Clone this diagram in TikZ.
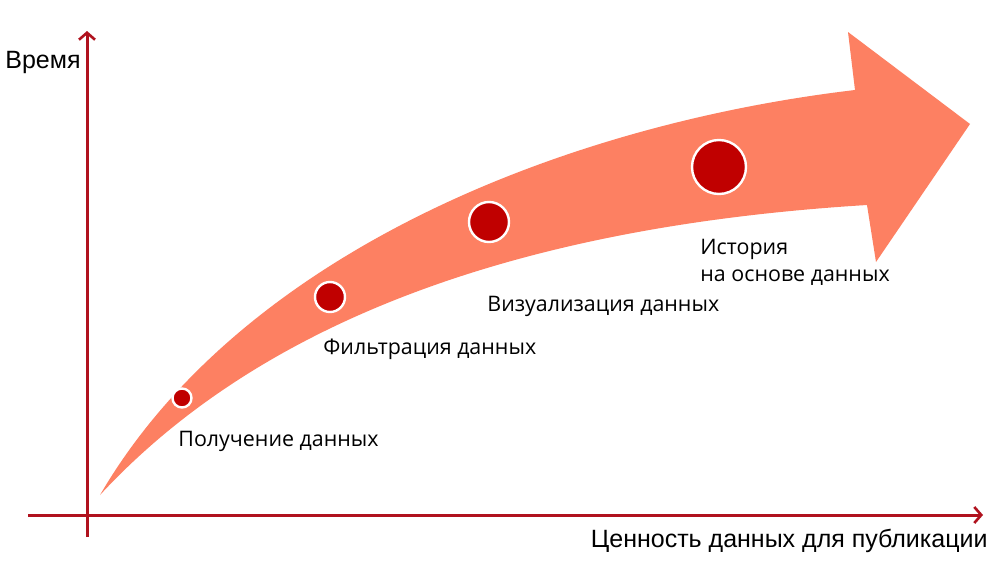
\documentclass[tikz,border=0pt]{standalone}
\usepackage{fontspec}
\setmainfont{Open Sans}
\newfontfamily\arialfont{Liberation Sans}
\usetikzlibrary{arrows.meta}

\definecolor{axisred}{RGB}{176,18,30}
\definecolor{salmon}{RGB}{253,128,98}
\definecolor{dotred}{RGB}{192,0,0}

\tikzset{
  axis/.style={axisred, line width=1.5pt, -{Straight Barb[length=3.5pt,width=8pt,line width=1.3pt]}},
  dot/.style={circle, fill=dotred, draw=white, line width=1.2pt, inner sep=0pt},
  lbl/.style={font=\fontsize{10.7}{13.5}\selectfont, inner sep=0pt, anchor=west},
  ttl/.style={font=\arialfont\fontsize{12.5}{14}\selectfont, inner sep=0pt, anchor=west}
}

\begin{document}
\begin{tikzpicture}[x=0.5pt, y=-0.5pt]
            \useasboundingbox[fill=white] (0,0) rectangle (997,562);

            % Axes
            \coordinate (ybot) at (87,537);
            \coordinate (ytop) at (87,31);
            \coordinate (xleft) at (28,515);
            \coordinate (xright) at (983,515);
            \draw[axis] (ybot) -- (ytop);
            \draw[axis] (xleft) -- (xright);

            % Big curved arrow
            \fill[salmon] (100,495) .. controls (240,255) and (560,125) .. (855,90)
                -- (848,32) -- (970,124) -- (876,262) -- (867,205)
                .. controls (590,222) and (290,290) .. cycle;

            % Stages
            \node[dot, minimum size=9.5pt] (s1) at (182,398) {};
            \node[dot, minimum size=15pt] (s2) at (330,297) {};
            \node[dot, minimum size=20pt] (s3) at (489,222) {};
            \node[dot, minimum size=27pt] (s4) at (719,167) {};

            \node[lbl] (l1) at (178,441) {Получение данных};
            \node[lbl] (l2) at (323,349) {Фильтрация данных};
            \node[lbl] (l3) at (487,306) {Визуализация данных};
            \node[lbl, align=left] (l4) at (700,262) {История\\на основе данных};

            % Axis titles
            \node[ttl] (ty) at (5,62) {Время};
            \node[ttl, anchor=east] (tx) at (988,541) {Ценность данных для публикации};
\end{tikzpicture}
\end{document}
